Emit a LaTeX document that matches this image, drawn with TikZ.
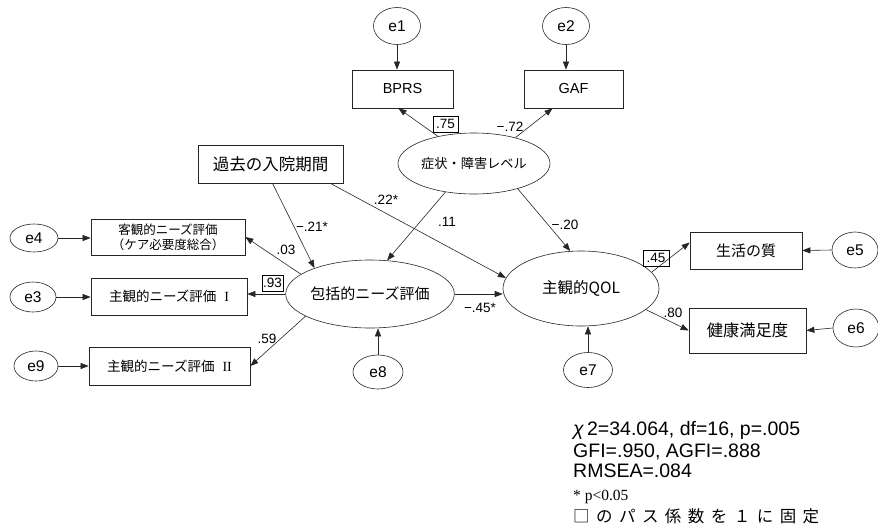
\documentclass[tikz,border=0pt]{standalone}
\usepackage{fontspec}
\setmainfont{Liberation Sans}
\newfontfamily\jp{Noto Sans CJK JP}
\newfontfamily\lserif{Liberation Serif}
\usetikzlibrary{shapes.geometric,arrows.meta}
\begin{document}
\begin{tikzpicture}[x=1pt,y=-1pt,
  ell/.style={draw=black!85, line width=0.6pt, ellipse, inner sep=0pt},
  err/.style={ell, font=\fontsize{15.5}{17}\selectfont},
  lat/.style={ell, font=\jp\fontsize{15}{17}\selectfont},
  obs/.style={draw=black!85, line width=0.7pt, rectangle, inner sep=0pt, font=\jp\fontsize{15}{17}\selectfont},
  arr/.style={draw=black!85, line width=0.6pt, -{Triangle[length=8pt,width=6pt]}},
  coef/.style={font=\fontsize{13.5}{15}\selectfont, inner sep=1pt},
  fixedc/.style={coef, draw=black, line width=0.6pt, minimum width=24pt, minimum height=16pt, inner sep=1pt}
]
\useasboundingbox[fill=white] (0,0) rectangle (878,528);

% error terms
\node[err, minimum width=47pt, minimum height=37pt] (e1) at (397,26) {e1};
\node[err, minimum width=47pt, minimum height=37pt] (e2) at (566,26) {e2};
\node[err, minimum width=48pt, minimum height=28pt] (e4) at (34,238) {e4};
\node[err, minimum width=46pt, minimum height=30pt] (e3) at (33,297) {e3};
\node[err, minimum width=44pt, minimum height=30pt] (e9) at (36,366) {e9};
\node[err, minimum width=50pt, minimum height=34pt] (e8) at (378,372) {e8};
\node[err, minimum width=49pt, minimum height=35pt] (e7) at (588,370) {e7};
\node[err, minimum width=46pt, minimum height=36pt] (e5) at (855,250) {e5};
\node[err, minimum width=46pt, minimum height=38pt] (e6) at (856,328) {e6};

% latent variables
\node[lat, minimum width=152pt, minimum height=61pt, font=\jp\fontsize{13.2}{15}\selectfont] (sym) at (474,163.5) {症状・障害レベル};
\node[lat, minimum width=164pt, minimum height=68pt] (comp) at (370,294) {包括的ニーズ評価};
\node[lat, minimum width=156pt, minimum height=75pt, font=\jp\fontsize{15.5}{17}\selectfont] (qol) at (581,288.5) {主観的QOL};

% observed variables
\node[obs, minimum width=101pt, minimum height=38pt, font=\fontsize{14.5}{16}\selectfont] (bprs) at (402.5,89) {BPRS};
\node[obs, minimum width=99pt, minimum height=38pt, font=\fontsize{14.5}{16}\selectfont] (gaf) at (573.5,89) {GAF};
\node[obs, minimum width=145pt, minimum height=38pt, font=\jp\fontsize{16.5}{18}\selectfont] (past) at (270.5,164) {過去の入院期間};
\node[obs, minimum width=154pt, minimum height=36pt, align=center, font=\jp\fontsize{12.5}{15}\selectfont] (obj) at (168,237) {客観的ニーズ評価\\（ケア必要度総合）};
\node[obs, minimum width=156pt, minimum height=37pt, font=\jp\fontsize{13.5}{15}\selectfont] (sub1) at (169,296.5) {主観的ニーズ評価\hspace{8pt}{\lserif\fontsize{14}{15}\selectfont I}};
\node[obs, minimum width=161pt, minimum height=38pt, font=\jp\fontsize{13.5}{15}\selectfont] (sub2) at (169.5,366) {主観的ニーズ評価\hspace{8pt}{\lserif\fontsize{14}{15}\selectfont II}};
\node[obs, minimum width=112pt, minimum height=37pt] (life) at (746,250.5) {生活の質};
\node[obs, minimum width=117pt, minimum height=45pt, font=\jp\fontsize{16.3}{18}\selectfont] (health) at (747.5,330.5) {健康満足度};

% error arrows
\draw[arr] (e1.south) -- (e1.south |- bprs.north);
\draw[arr] (e2.south) -- (e2.south |- gaf.north);
\draw[arr] (e4.east) -- (e4.east -| obj.west);
\draw[arr] (e3.east) -- (e3.east -| sub1.west);
\draw[arr] (e9.east) -- (e9.east -| sub2.west);
\draw[arr] (e8.north) -- (e8.north |- comp.south);
\draw[arr] (e7.north) -- (e7.north |- qol.south);
\draw[arr] (e5.west) -- (life.east);
\draw[arr] (e6.west) -- (health.east);

% structural paths
\draw[arr] (sym.143) -- ([xshift=-4pt]bprs.south);
\draw[arr] (sym.32) -- ([xshift=-21pt]gaf.south);
\draw[arr] (sym.225) -- (comp.63);
\draw[arr] (sym.-30) -- (qol.106);
\draw[arr] ([xshift=2pt]past.south) -- (comp.155);
\draw[arr] ([xshift=-13pt]past.south east) -- (qol.172);
\draw[arr] (comp.164) -- (obj.east);
\draw[arr] (comp.west) -- (comp.west -| sub1.east);
\draw[arr] (comp.199) -- (sub2.east);
\draw[arr] (comp.east) -- (comp.east -| qol.west);
\draw[arr] (qol.13) -- ([yshift=8pt]life.west);
\draw[arr] (qol.-18) -- (health.west);

% coefficients
\node[fixedc, minimum width=25pt] (c75) at (445.5,124) {.75};
\node[coef] (c72) at (510,127) {−.72};
\node[coef] (c22) at (386,200) {.22*};
\node[coef] (c21) at (312,227) {−.21*};
\node[coef] (c03) at (286,250) {.03};
\node[fixedc, minimum width=21pt] (c93) at (272.5,283) {.93};
\node[coef] (c59) at (267,339) {.59};
\node[coef] (c11) at (447,222) {.11};
\node[coef] (c20) at (565,225) {−.20};
\node[coef] (c45s) at (480,308) {−.45*};
\node[fixedc, minimum width=26pt] (c45) at (656,258) {.45};
\node[coef] (c80) at (673,313) {.80};

% fit statistics and notes
\node[anchor=base west, inner sep=0pt, font=\fontsize{19.5}{21}\selectfont] (fit1) at (573,435) {{\itshape χ}\,2=34.064, df=16, p=.005};
\node[anchor=base west, inner sep=0pt, font=\fontsize{19.5}{21}\selectfont] (fit2) at (573,457) {GFI=.950, AGFI=.888};
\node[anchor=base west, inner sep=0pt, font=\fontsize{19.5}{21}\selectfont] (fit3) at (573,477) {RMSEA=.084};
\node[anchor=base west, inner sep=0pt, font=\lserif\fontsize{15.5}{17}\selectfont] (note1) at (573,500) {* p<0.05};
\node[anchor=base west, inner sep=0pt, font=\jp\fontsize{16.5}{18}\selectfont] (note2) at (573,522) {\hbox to 246pt{□\hfill の\hfill パ\hfill ス\hfill 係\hfill 数\hfill を\hfill １\hfill に\hfill 固\hfill 定}};
\end{tikzpicture}
\end{document}
